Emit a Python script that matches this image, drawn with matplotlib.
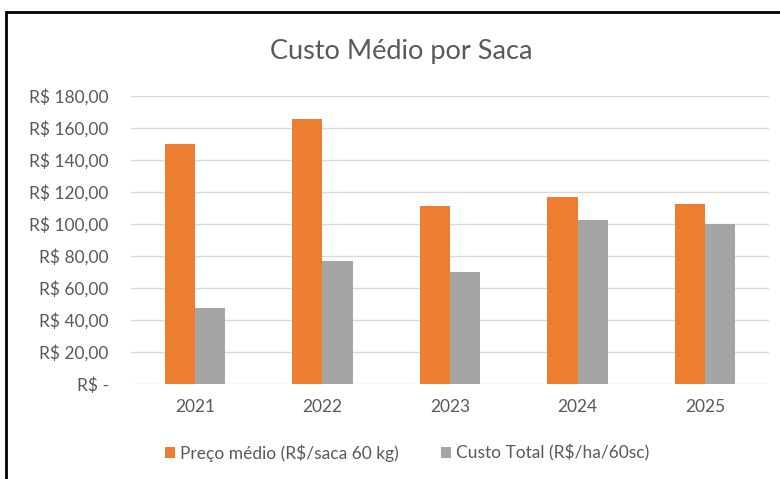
import numpy as np
import matplotlib
matplotlib.use("Agg")
import matplotlib.pyplot as plt
from matplotlib.patches import Rectangle

years = ["2021", "2022", "2023", "2024", "2025"]
preco_medio = [149.7, 165.5, 111.3, 117.0, 112.5]
custo_total = [47.8, 76.9, 69.7, 102.7, 100.2]
series_labels = ["Preço médio (R$/saca 60 kg)", "Custo Total (R$/ha/60sc)"]
yticks = [0, 20, 40, 60, 80, 100, 120, 140, 160, 180]

ORANGE = "#ED7D31"
GRAY = "#A5A5A5"
TXT = "#595959"

plt.rcParams["font.family"] = ["Lato", "DejaVu Sans"]

fig = plt.figure(figsize=(7.8, 4.79), dpi=100)
# chart frame (only left/top visible in the screenshot)
fig.patches.append(Rectangle((6 / 780, -0.1), 1.2, 1 - 12 / 479 + 0.1,
                             transform=fig.transFigure, fill=False,
                             edgecolor="black", linewidth=2))

ax = fig.add_axes([131 / 780, 1 - 384 / 479, 638 / 780, 288 / 479])
x = np.arange(len(years))
w = 0.237
ax.bar(x - w / 2, preco_medio, w, color=ORANGE, label=series_labels[0], zorder=3)
ax.bar(x + w / 2, custo_total, w, color=GRAY, label=series_labels[1], zorder=3)

ax.set_xlim(-0.5, len(years) - 0.5)
ax.set_ylim(0, 180)
ax.set_yticks(yticks)
ax.set_yticklabels(["R$ -" if v == 0 else f"R$ {v},00" for v in yticks])
ax.set_xticks(x)
ax.set_xticklabels(years)
ax.grid(axis="y", color="#D9D9D9", linewidth=1, zorder=0)
for s in ax.spines.values():
    s.set_visible(False)
ax.tick_params(axis="both", length=0, labelsize=12.5, colors=TXT)
ax.tick_params(axis="y", pad=16)
ax.tick_params(axis="x", pad=11)

fig.text(0.515, 1 - 52 / 479, "Custo Médio por Saca", ha="center", va="center",
         fontsize=19.5, color=TXT)

fig.legend(loc="center", bbox_to_anchor=(0.522, 1 - 453 / 479), ncol=2,
           frameon=False, fontsize=12.5, labelcolor=TXT, handlelength=0.6,
           handleheight=0.6, handletextpad=0.3, columnspacing=2.4)

fig.savefig("out.png", dpi=100)
